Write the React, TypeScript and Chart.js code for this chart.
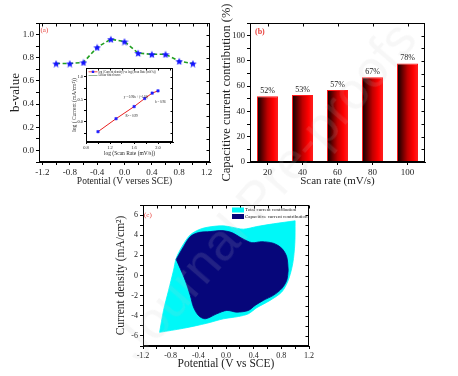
import React, { useEffect, useRef } from 'react';
import { Chart, registerables } from 'chart.js';

Chart.register(...registerables);

const SERIF = "'Liberation Serif', 'Times New Roman', serif";
Chart.defaults.font.family = SERIF;
Chart.defaults.color = '#222';

// ---------- Panel (a): b-value vs potential ----------
const potentialA = [-1.0, -0.8, -0.6, -0.4, -0.2, 0.0, 0.2, 0.4, 0.6, 0.8, 1.0];
const bValue = [0.75, 0.75, 0.76, 0.89, 0.96, 0.94, 0.84, 0.83, 0.83, 0.77, 0.75];

// ---------- Inset: log(current) vs log(scan rate) ----------
const logScanRate = [1.0, 1.301, 1.602, 1.778, 1.903, 2.0];
const logCurrent = [-0.22, 0.07, 0.34, 0.52, 0.64, 0.69];

// ---------- Panel (b): capacitive contribution ----------
const scanRates = ['20', '40', '60', '80', '100'];
const capContribution = [52, 53, 57, 67, 78];

// ---------- Panel (c): CV separation ----------
const totalUpperV = [-0.96, -0.903, -0.83, -0.758, -0.72, -0.637, -0.517, -0.373, -0.204, -0.037, 0.084, 0.252, 0.445, 0.685, 1.0];
const totalUpperJ = [-5.64, -3.47, -1.47, 0.53, 1.7, 2.86, 4.03, 4.6, 4.86, 4.93, 4.8, 4.6, 4.86, 5.13, 5.43];
const totalLowerV = [-0.96, -0.614, -0.277, -0.037, 0.18, 0.324, 0.445, 0.637, 0.806, 0.9, 0.965, 0.995, 1.0];
const totalLowerJ = [-5.64, -5.24, -4.74, -4.3, -4.07, -3.8, -3.2, -2.47, -1.64, -0.47, 1.2, 3.2, 5.43];
const capUpperV = [-0.72, -0.614, -0.517, -0.398, -0.229, -0.06, 0.084, 0.229, 0.373, 0.517, 0.685, 0.806, 0.878, 0.9];
const capUpperJ = [1.6, 2.86, 3.86, 4.26, 4.36, 4.46, 4.26, 3.7, 3.26, 3.36, 3.2, 2.7, 1.86, 0.53];
const capLowerV = [-0.72, -0.662, -0.59, -0.517, -0.47, -0.398, -0.301, -0.132, 0.012, 0.156, 0.324, 0.42, 0.54, 0.685, 0.806, 0.878, 0.9];
const capLowerJ = [1.6, 0.7, -0.47, -1.97, -3.14, -3.97, -4.3, -3.8, -3.47, -3.64, -3.47, -2.97, -2.47, -1.97, -1.3, -0.47, 0.53];

const zip = (xs: number[], ys: number[]) => xs.map((x, i) => ({ x, y: ys[i] }));
const fmt1 = (v: number) => (Math.abs(v) < 1e-9 ? '0.0' : v.toFixed(1));

function makeStar(size: number, color: string) {
  const c = document.createElement('canvas');
  c.width = size;
  c.height = size;
  const g = c.getContext('2d')!;
  const r = size / 2;
  const ri = r * 0.45;
  g.beginPath();
  for (let i = 0; i < 10; i++) {
    const ang = -Math.PI / 2 + (i * Math.PI) / 5;
    const rr = i % 2 === 0 ? r : ri;
    g.lineTo(r + rr * Math.cos(ang), r + 0.5 + rr * Math.sin(ang));
  }
  g.closePath();
  g.fillStyle = color;
  g.fill();
  return c;
}

const framePlugin = {
  id: 'frame',
  afterDraw(chart: any, _args: any, opts: any) {
    const { ctx, chartArea: a } = chart;
    const len = opts.tick ?? 3;
    ctx.save();
    ctx.strokeStyle = '#000';
    ctx.lineWidth = 1;
    const l = Math.round(a.left) + 0.5;
    const t = Math.round(a.top) + 0.5;
    const r = Math.round(a.right) - 0.5;
    const b = Math.round(a.bottom) - 0.5;
    ctx.strokeRect(l, t, r - l, b - t);
    const xs = chart.scales.x;
    const ys = chart.scales.y;
    ctx.beginPath();
    xs.ticks.forEach((_t: any, i: number) => {
      const p = Math.round(xs.getPixelForTick(i)) + 0.5;
      ctx.moveTo(p, t);
      ctx.lineTo(p, t + len);
    });
    ys.ticks.forEach((_t: any, i: number) => {
      const p = Math.round(ys.getPixelForTick(i)) + 0.5;
      ctx.moveTo(r, p);
      ctx.lineTo(r - len, p);
    });
    ctx.stroke();
    ctx.restore();
  },
};

const notesPlugin = {
  id: 'notes',
  afterDraw(chart: any, _args: any, opts: any) {
    const items = opts.items || [];
    const { ctx, chartArea: a } = chart;
    ctx.save();
    for (let k = 0; k < items.length; k++) {
      const it = items[k];
      ctx.font = `${it.weight || 'normal'} ${it.size}px ${SERIF}`;
      ctx.fillStyle = it.color || '#222';
      ctx.textAlign = 'left';
      ctx.textBaseline = 'middle';
      let x: number;
      let y: number;
      if (it.dataX !== undefined) {
        x = chart.scales.x.getPixelForValue(it.dataX);
        y = chart.scales.y.getPixelForValue(it.dataY);
      } else {
        x = a.left + it.dx;
        y = a.top + it.dy;
      }
      if (it.swatch === 'rect') {
        ctx.fillStyle = it.swatchColor;
        ctx.fillRect(x - it.sw - 1, y - it.sh / 2, it.sw, it.sh);
        ctx.fillStyle = it.color || '#222';
      } else if (it.swatch === 'line' || it.swatch === 'lineMarker') {
        ctx.strokeStyle = it.swatchColor;
        ctx.lineWidth = 0.8;
        ctx.beginPath();
        ctx.moveTo(x - it.sw - 1, y);
        ctx.lineTo(x - 1, y);
        ctx.stroke();
        if (it.swatch === 'lineMarker') {
          ctx.fillStyle = it.markerColor;
          ctx.fillRect(x - it.sw / 2 - 2.2, y - 1.2, 2.4, 2.4);
          ctx.fillStyle = it.color || '#222';
        }
      }
      ctx.fillText(it.text, x, y);
    }
    ctx.restore();
  },
};

const barLabelPlugin = {
  id: 'barLabels',
  afterDatasetsDraw(chart: any) {
    const meta = chart.getDatasetMeta(0);
    const { ctx } = chart;
    ctx.save();
    ctx.font = `8px ${SERIF}`;
    ctx.fillStyle = '#222';
    ctx.textAlign = 'center';
    ctx.textBaseline = 'bottom';
    meta.data.forEach((bar: any, i: number) => {
      ctx.fillText(`${capContribution[i]}%`, bar.x, bar.y - 1.5);
    });
    ctx.restore();
  },
};

function axisCommon(opts: {
  tickSize: number;
  tickLen: number;
  pad: number;
  title: string;
  titleSize: number;
  titlePad: any;
}) {
  return {
    grid: { drawOnChartArea: false, tickLength: opts.tickLen, color: '#000', tickWidth: 1 },
    border: { color: '#000', width: 1 },
    ticks: {
      font: { size: opts.tickSize, family: SERIF },
      color: '#222',
      padding: opts.pad,
      autoSkip: false,
      maxRotation: 0,
      includeBounds: false,
    },
    title: {
      display: true,
      text: opts.title,
      font: { size: opts.titleSize, family: SERIF },
      color: '#222',
      padding: opts.titlePad,
    },
  };
}

function merge(a: any, b: any): any {
  const out: any = { ...a };
  for (const k of Object.keys(b)) {
    if (b[k] && typeof b[k] === 'object' && !Array.isArray(b[k]) && typeof a[k] === 'object') out[k] = merge(a[k], b[k]);
    else out[k] = b[k];
  }
  return out;
}

export default function App() {
  const aRef = useRef<HTMLCanvasElement>(null);
  const insetRef = useRef<HTMLCanvasElement>(null);
  const bRef = useRef<HTMLCanvasElement>(null);
  const cRef = useRef<HTMLCanvasElement>(null);

  useEffect(() => {
    const charts: Chart[] = [];
    const star = makeStar(8, '#1414ff');

    // Panel (a)
    charts.push(
      new Chart(aRef.current!, {
        type: 'line',
        data: {
          datasets: [
            {
              data: zip(potentialA, bValue),
              borderColor: '#22a022',
              borderWidth: 1.6,
              borderDash: [4, 2.5],
              pointStyle: star as any,
              pointRadius: 4,
              fill: false,
            },
          ],
        },
        options: {
          animation: false,
          responsive: false,
          maintainAspectRatio: false,
          layout: { padding: { top: 23, right: 9, left: 0, bottom: 0 } },
          plugins: {
            legend: { display: false },
            tooltip: { enabled: false },
            frame: { tick: 3 },
            notes: { items: [{ text: '(a)', dx: 1.5, dy: 7.5, size: 7, color: '#e8413c' }] },
          } as any,
          scales: {
            x: merge(
              axisCommon({ tickSize: 9, tickLen: 3, pad: 2, title: 'Potential (V verses SCE)', titleSize: 9.5, titlePad: { top: 0, bottom: 2.5 } }),
              {
                type: 'linear',
                min: -1.25,
                max: 1.25,
                afterFit: (s: any) => { s.height = 28; },
                ticks: { stepSize: 0.2, callback: (v: number) => (Math.round(v * 10) % 4 === 0 ? fmt1(v) : '') },
              }
            ),
            y: merge(
              axisCommon({ tickSize: 9, tickLen: 3, pad: 2, title: 'b-value', titleSize: 13, titlePad: { top: 8, bottom: 0 } }),
              {
                min: -0.1,
                max: 1.1,
                afterFit: (s: any) => { s.width = 39; },
                ticks: { stepSize: 0.1, callback: (v: number) => (Math.round(v * 10) % 2 === 0 ? fmt1(v) : '') },
              }
            ),
          },
        },
        plugins: [framePlugin, notesPlugin],
      } as any)
    );

    // Inset
    charts.push(
      new Chart(insetRef.current!, {
        type: 'line',
        data: {
          datasets: [
            {
              data: zip(logScanRate, logCurrent),
              borderColor: '#e82020',
              borderWidth: 1,
              pointStyle: 'rect',
              pointRadius: 1.7,
              pointBackgroundColor: '#1f1fff',
              pointBorderColor: '#1f1fff',
              pointBorderWidth: 0.5,
              fill: false,
            },
          ],
        },
        options: {
          animation: false,
          responsive: false,
          maintainAspectRatio: false,
          layout: { padding: { top: 8, right: 7, left: 0, bottom: 0 } },
          plugins: {
            legend: { display: false },
            tooltip: { enabled: false },
            frame: { tick: 2 },
            notes: {
              items: [
                { text: 'log (Current density) vs log (Scan Rate (mV/s))', dx: 12.5, dy: 3.8, size: 3, swatch: 'lineMarker', swatchColor: '#e82020', markerColor: '#1f1fff', sw: 9 },
                { text: 'Linear fitted curve', dx: 12.5, dy: 7.5, size: 3, swatch: 'line', swatchColor: '#7aa07a', sw: 9 },
                { text: 'y = 0.96x + (-1.18)', dataX: 1.43, dataY: 0.56, size: 3.2 },
                { text: 'b = 0.96', dataX: 1.95, dataY: 0.44, size: 3.2 },
                { text: 'R\u00b2 = 0.99', dataX: 1.46, dataY: 0.13, size: 3.2 },
              ],
            },
          } as any,
          scales: {
            x: merge(
              axisCommon({ tickSize: 4.5, tickLen: 2, pad: 1, title: 'log (Scan Rate (mV/s))', titleSize: 5.5, titlePad: { top: 0, bottom: 3.5 } }),
              {
                type: 'linear',
                min: 0.8,
                max: 2.25,
                afterFit: (s: any) => { s.height = 18; },
                ticks: { stepSize: 0.2, callback: (v: number) => (Math.round(v * 10) % 4 === 0 ? fmt1(v) : '') },
              }
            ),
            y: merge(
              axisCommon({ tickSize: 4.5, tickLen: 2, pad: 1, title: 'log ( Current (mA/cm\u00b2))', titleSize: 5.5, titlePad: { top: 9.5, bottom: 0 } }),
              {
                min: -0.45,
                max: 1.2,
                afterFit: (s: any) => { s.width = 24; },
                ticks: { stepSize: 0.25, callback: (v: number) => (Math.round(v * 100) % 50 === 0 ? fmt1(v) : '') },
              }
            ),
          },
        },
        plugins: [framePlugin, notesPlugin],
      } as any)
    );

    // Panel (b)
    charts.push(
      new Chart(bRef.current!, {
        type: 'bar',
        data: {
          labels: scanRates,
          datasets: [
            {
              data: capContribution,
              backgroundColor: (ctx: any) => {
                const chart = ctx.chart;
                const xs = chart.scales && chart.scales.x;
                if (!xs || !chart.chartArea || ctx.dataIndex === undefined) return '#f00';
                const cx = xs.getPixelForValue(ctx.dataIndex);
                const w = (xs.width / scanRates.length) * 0.6;
                const g = chart.ctx.createLinearGradient(cx - w / 2, 0, cx + w / 2, 0);
                g.addColorStop(0, '#050000');
                g.addColorStop(0.5, '#c00000');
                g.addColorStop(0.78, '#ff0000');
                g.addColorStop(1, '#ff2020');
                return g;
              },
              borderColor: '#ff1a1a',
              borderWidth: 1,
              barPercentage: 0.6,
              categoryPercentage: 1,
            },
          ],
        },
        options: {
          animation: false,
          responsive: false,
          maintainAspectRatio: false,
          layout: { padding: { top: 23, right: 33, left: 0, bottom: 0 } },
          plugins: {
            legend: { display: false },
            tooltip: { enabled: false },
            frame: { tick: 3 },
            notes: { items: [{ text: '(b)', dx: 5, dy: 8.5, size: 8, weight: 'bold', color: '#e8413c' }] },
          } as any,
          scales: {
            x: merge(
              axisCommon({ tickSize: 9, tickLen: 3, pad: 2, title: 'Scan rate (mV/s)', titleSize: 11, titlePad: { top: 0, bottom: 2.5 } }),
              {
                afterFit: (s: any) => { s.height = 28; },
                grid: { offset: false },
              }
            ),
            y: merge(
              axisCommon({ tickSize: 8.5, tickLen: 3, pad: 2, title: 'Capacitive current contribution (%)', titleSize: 12.5, titlePad: { top: 0, bottom: 0 } }),
              {
                min: 0,
                max: 110,
                afterFit: (s: any) => { s.width = 31; },
                ticks: { stepSize: 10, callback: (v: number) => (Math.round(v) % 20 === 0 ? String(Math.round(v)) : '') },
              }
            ),
          },
        },
        plugins: [framePlugin, notesPlugin, barLabelPlugin],
      } as any)
    );

    // Panel (c)
    const shape = { borderWidth: 0.8, pointRadius: 0, tension: 0.3 };
    charts.push(
      new Chart(cRef.current!, {
        type: 'line',
        data: {
          datasets: [
            { ...shape, data: zip(capUpperV, capUpperJ), fill: '+1', backgroundColor: '#06067a', borderColor: '#06067a' },
            { ...shape, data: zip(capLowerV, capLowerJ), fill: false, borderColor: '#06067a' },
            { ...shape, data: zip(totalUpperV, totalUpperJ), fill: '+1', backgroundColor: '#00f8f8', borderColor: '#00f8f8' },
            { ...shape, data: zip(totalLowerV, totalLowerJ), fill: false, borderColor: '#00f8f8' },
          ],
        },
        options: {
          animation: false,
          responsive: false,
          maintainAspectRatio: false,
          layout: { padding: { top: 15, right: 21, left: 0, bottom: 0 } },
          plugins: {
            legend: { display: false },
            tooltip: { enabled: false },
            frame: { tick: 3 },
            notes: {
              items: [
                { text: '(c)', dx: 1, dy: 10, size: 7, color: '#e8413c' },
                { text: 'Total current contribution', dx: 102, dy: 5, size: 5, swatch: 'rect', swatchColor: '#00f8f8', sw: 12, sh: 5 },
                { text: 'Capacitive current contribution', dx: 102, dy: 11.5, size: 5, swatch: 'rect', swatchColor: '#06067a', sw: 12, sh: 5 },
              ],
            },
          } as any,
          scales: {
            x: merge(
              axisCommon({ tickSize: 8, tickLen: 3, pad: 2, title: 'Potential (V vs SCE)', titleSize: 11.5, titlePad: { top: 0, bottom: 5 } }),
              {
                type: 'linear',
                min: -1.2,
                max: 1.2,
                afterFit: (s: any) => { s.height = 30; },
                ticks: { stepSize: 0.2, callback: (v: number) => (Math.round(v * 10) % 4 === 0 ? fmt1(v) : '') },
              }
            ),
            y: merge(
              axisCommon({ tickSize: 8, tickLen: 3, pad: 2, title: 'Current density (mA/cm\u00b2)', titleSize: 11.5, titlePad: { top: 6, bottom: 0 } }),
              {
                min: -7,
                max: 7,
                afterFit: (s: any) => { s.width = 35; },
                ticks: { stepSize: 1, callback: (v: number) => (Math.round(v) % 2 === 0 ? String(Math.round(v)) : '') },
              }
            ),
          },
        },
        plugins: [framePlugin, notesPlugin],
      } as any)
    );

    return () => charts.forEach((c) => c.destroy());
  }, []);

  const abs = (left: number, top: number, w: number, h: number): React.CSSProperties => ({
    position: 'absolute',
    left,
    top,
    width: w,
    height: h,
  });

  return (
    <div style={{ position: 'absolute', left: 0, top: 0, width: 458, height: 376, background: '#fff', overflow: 'hidden' }}>
      <canvas ref={aRef} width={219} height={190} style={abs(0, 0, 219, 190)} />
      <canvas ref={insetRef} width={118} height={100} style={abs(62, 60, 118, 100)} />
      <canvas ref={bRef} width={239} height={190} style={abs(219, 0, 239, 190)} />
      <canvas ref={cRef} width={222} height={186} style={abs(108, 190, 222, 186)} />
      <div
        style={{
          position: 'absolute',
          left: 265,
          top: 190,
          transform: 'translate(-50%, -50%) rotate(-49deg)',
          font: "52px 'Liberation Sans', Arial, sans-serif",
          color: 'rgba(200,200,200,0.14)',
          whiteSpace: 'nowrap',
          pointerEvents: 'none',
        }}
      >
        Journal Pre-proofs
      </div>
    </div>
  );
}
